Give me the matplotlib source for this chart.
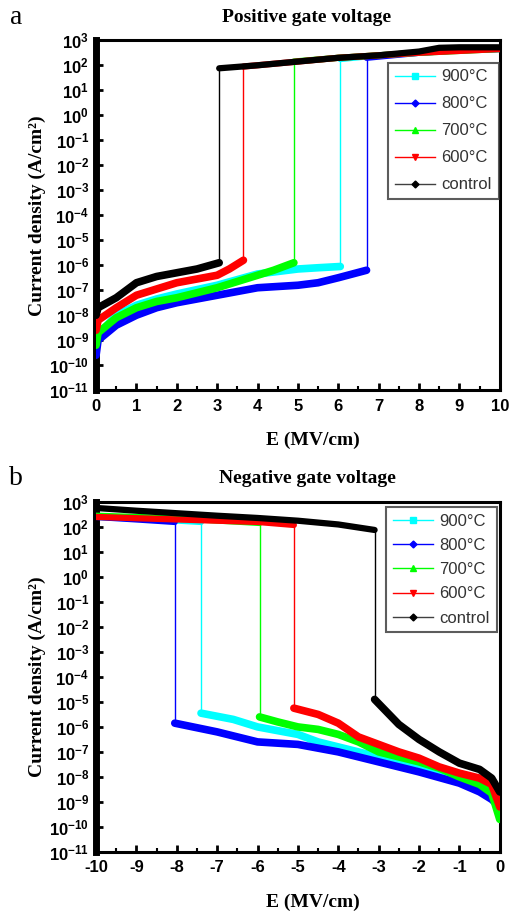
import matplotlib
matplotlib.use('Agg')
import matplotlib.pyplot as plt
import numpy as np

plt.rcParams['font.family'] = ['Liberation Sans', 'DejaVu Sans']
plt.rcParams['mathtext.fontset'] = 'custom'
plt.rcParams['mathtext.rm'] = 'Liberation Sans:bold'
plt.rcParams['mathtext.bf'] = 'Liberation Sans:bold'
plt.rcParams['mathtext.it'] = 'Liberation Sans:bold:italic'
plt.rcParams['axes.unicode_minus'] = False

# ---- data: E (MV/cm), log10 J (A/cm^2) ----
labels = ['900°C', '800°C', '700°C', '600°C', 'control']
colors = ['#00ffff', '#0000ff', '#00ff00', '#ff0000', '#000000']
markers = ['s', 'D', '^', 'v', 'D']

# positive gate voltage: low (pre-breakdown) and high (post-breakdown) branches
pos_low_E = [
    [0.0, 0.05, 0.5, 1, 1.5, 2, 3, 4, 5, 5.5, 6.05],
    [0.0, 0.05, 0.5, 1, 1.5, 2, 3, 4, 5, 5.5, 6, 6.7],
    [0.0, 0.05, 0.5, 1, 1.5, 2, 3, 3.8, 4.4, 4.9],
    [0.0, 0.05, 0.5, 1, 1.5, 2, 2.5, 3, 3.3, 3.65],
    [0.0, 0.05, 0.5, 1, 1.5, 2, 2.5, 3.05],
]
pos_low_J = [
    [-9.3, -8.8, -8.0, -7.6, -7.35, -7.15, -6.8, -6.35, -6.15, -6.1, -6.05],
    [-9.6, -9.0, -8.4, -8.0, -7.7, -7.5, -7.2, -6.9, -6.8, -6.7, -6.5, -6.2],
    [-9.2, -8.7, -8.1, -7.7, -7.45, -7.3, -6.9, -6.5, -6.2, -5.9],
    [-8.6, -8.2, -7.7, -7.2, -6.95, -6.7, -6.55, -6.4, -6.15, -5.8],
    [-8.0, -7.7, -7.3, -6.7, -6.45, -6.3, -6.15, -5.9],
]
pos_high_E = [
    [6.05, 7, 8, 9, 10],
    [6.7, 8, 9, 10],
    [4.9, 6, 7, 8, 10],
    [3.65, 5, 6, 7, 8, 10],
    [3.05, 4, 5, 6, 7, 8, 8.5, 9, 10],
]
pos_high_J = [
    [2.25, 2.4, 2.5, 2.6, 2.65],
    [2.3, 2.5, 2.6, 2.65],
    [2.15, 2.3, 2.4, 2.5, 2.65],
    [1.95, 2.15, 2.3, 2.4, 2.5, 2.65],
    [1.88, 2.0, 2.15, 2.3, 2.4, 2.55, 2.7, 2.72, 2.72],
]

# negative gate voltage
neg_high_E = [
    [-10, -8.5, -7.4],
    [-10, -9, -8.05],
    [-10, -8, -5.95],
    [-10, -8, -6, -5.1],
    [-10, -9, -8, -7, -6, -5, -4, -3.1],
]
neg_high_J = [
    [2.4, 2.3, 2.2],
    [2.4, 2.3, 2.2],
    [2.45, 2.35, 2.16],
    [2.4, 2.3, 2.2, 2.08],
    [2.76, 2.65, 2.55, 2.45, 2.36, 2.25, 2.1, 1.88],
]
neg_low_E = [
    [-7.4, -6.6, -6, -5, -4.5, -4, -3, -2, -1, -0.2, 0],
    [-8.05, -7, -6, -5, -4, -3, -2, -1, -0.5, -0.2, 0],
    [-5.95, -5.5, -5, -4.5, -4, -3.5, -3, -2.5, -2, -1.5, -1, -0.5, -0.2, 0],
    [-5.1, -4.5, -4, -3.5, -3, -2.5, -2, -1.5, -1, -0.5, -0.2, 0],
    [-3.1, -2.5, -2, -1.5, -1, -0.5, -0.2, 0],
]
neg_low_J = [
    [-5.45, -5.7, -6.0, -6.3, -6.6, -6.8, -7.2, -7.5, -8.05, -8.45, -8.8],
    [-5.85, -6.2, -6.6, -6.7, -7.0, -7.4, -7.8, -8.25, -8.6, -8.9, -9.2],
    [-5.6, -5.8, -6.0, -6.1, -6.3, -6.6, -7.0, -7.2, -7.4, -7.65, -8.0, -8.3, -8.65, -9.7],
    [-5.25, -5.5, -5.85, -6.4, -6.7, -7.0, -7.25, -7.6, -7.85, -8.05, -8.3, -9.2],
    [-4.9, -5.9, -6.5, -7.0, -7.45, -7.7, -8.05, -8.6],
]

ytick_exp = list(range(3, -12, -1))


def draw_panel(ax, low_E, low_J, high_E, high_J, breakdown_first_high):
    for i in range(len(labels)):
        lE = np.array(low_E[i]); lJ = 10.0 ** np.array(low_J[i])
        hE = np.array(high_E[i]); hJ = 10.0 ** np.array(high_J[i])
        c = colors[i]
        z = 2 + i
        # thin breakdown jump
        if breakdown_first_high:
            ax.plot([hE[-1], lE[0]], [hJ[-1], lJ[0]], color=c, lw=1, zorder=z)
        else:
            ax.plot([lE[-1], hE[0]], [lJ[-1], hJ[0]], color=c, lw=1, zorder=z)
        # dense-marker branches drawn as thick bands
        ax.plot(lE, lJ, color=c, lw=5.5, solid_capstyle='round', zorder=z)
        ax.plot(hE, hJ, color=c, lw=4.5, solid_capstyle='round', zorder=z)

    ax.set_yscale('log')
    ax.set_ylim(1e-11, 1e3)
    ax.set_yticks([10.0 ** e for e in ytick_exp])
    ax.set_yticklabels(['$10^{%d}$' % e for e in ytick_exp])
    ax.yaxis.set_minor_locator(matplotlib.ticker.NullLocator())
    ax.tick_params(axis='y', which='major', direction='in', length=5, width=2,
                   labelsize=12, pad=5, right=False)
    ax.tick_params(axis='x', which='major', direction='in', length=5, width=2,
                   labelsize=12, pad=6, top=False)
    ax.tick_params(axis='x', which='minor', direction='in', length=3, width=1.5, top=False)
    for s in ['top', 'right', 'bottom']:
        ax.spines[s].set_linewidth(2.2)
    ax.spines['left'].set_linewidth(5)

    ax.set_xlabel('E (MV/cm)', family='Liberation Serif', fontweight='bold',
                  fontsize=14, va='center')
    ax.xaxis.set_label_coords(0.537, -0.143)
    ax.set_ylabel('Current density (A/cm²)', family='Liberation Serif',
                  fontweight='bold', fontsize=14, labelpad=2)


fig = plt.figure(figsize=(5.11, 9.16), dpi=100)
ax1 = fig.add_axes([0.188, 0.574, 0.790, 0.382])
ax2 = fig.add_axes([0.188, 0.070, 0.790, 0.382])

draw_panel(ax1, pos_low_E, pos_low_J, pos_high_E, pos_high_J, False)
ax1.set_xlim(0, 10)
ax1.set_xticks(np.arange(0, 11, 1))
ax1.set_xticks(np.arange(0.5, 10, 1), minor=True)
ax1.set_xticklabels([str(v) for v in range(0, 11)], fontweight='bold')

draw_panel(ax2, neg_low_E, neg_low_J, neg_high_E, neg_high_J, True)
ax2.set_xlim(-10, 0)
ax2.set_xticks(np.arange(-10, 1, 1))
ax2.set_xticks(np.arange(-9.5, 0, 1), minor=True)
ax2.set_xticklabels([str(v) for v in range(-10, 1)], fontweight='bold')

# legends
leg_colors = ['#00ffff', '#0000ff', '#00ff00', '#ff0000', '#404040']
for ax, anchor, spacing in [(ax1, (0.997, 0.936), 0.72), (ax2, (0.992, 0.985), 0.55)]:
    handles = []
    for i in range(len(labels)):
        h, = ax.plot([], [], color=leg_colors[i], lw=1, marker=markers[i],
                     markersize=4.5 if markers[i] != 'D' else 3.5,
                     markerfacecolor=colors[i], markeredgecolor=colors[i])
        handles.append(h)
    leg = ax.legend(handles, labels, loc='upper right', bbox_to_anchor=anchor,
                    fontsize=12, frameon=True, fancybox=False, handlelength=2.4,
                    handletextpad=0.4, labelspacing=spacing, borderpad=0.4,
                    borderaxespad=0.0)
    leg.get_frame().set_edgecolor('#333333')
    leg.get_frame().set_linewidth(1.5)
    for t in leg.get_texts():
        t.set_color('#333333')

fig.text(307 / 511, 1 - 18 / 916, 'Positive gate voltage', ha='center', va='center',
         family='Liberation Serif', fontweight='bold', fontsize=14)
fig.text(307 / 511, 1 - 478 / 916, 'Negative gate voltage', ha='center', va='center',
         family='Liberation Serif', fontweight='bold', fontsize=14)
fig.text(16 / 511, 1 - 18 / 916, 'a', ha='center', va='center',
         family='Liberation Serif', fontsize=20)
fig.text(16 / 511, 1 - 478 / 916, 'b', ha='center', va='center',
         family='Liberation Serif', fontsize=20)

fig.savefig('out.png', dpi=100)
